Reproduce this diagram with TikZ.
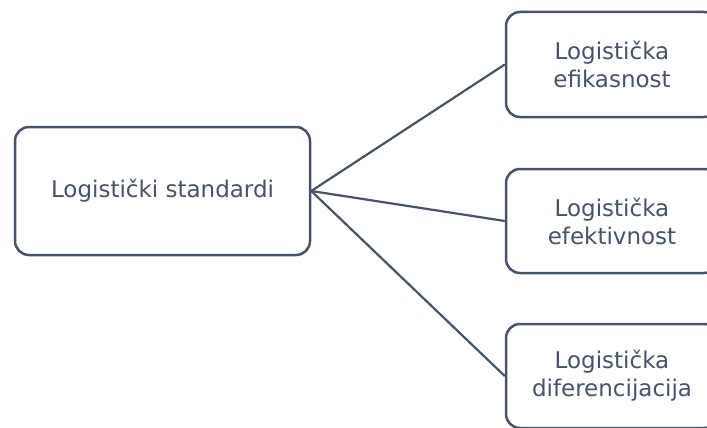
\documentclass[tikz,border=0pt]{standalone}
\usepackage{fontspec}
\setmainfont{DejaVu Sans}
\definecolor{slate}{HTML}{44546A}
\begin{document}
\begin{tikzpicture}[x=1pt,y=-1pt,
  box/.style={draw=slate,line width=2.5pt,rounded corners=14pt,fill=white,
    text=slate,align=center,font=\fontsize{23}{28}\selectfont,inner sep=0pt},
  link/.style={draw=slate,line width=2.2pt}]
\useasboundingbox (0,0) rectangle (707,428);
\clip (0,0) rectangle (707,428);
\node[box,minimum width=295pt,minimum height=128pt] (root) at (162.5,191) {Logistički standardi};
\node[box,minimum width=212pt,minimum height=105pt] (a) at (612,64.5) {Logistička\\efikasnost};
\node[box,minimum width=212pt,minimum height=104pt] (b) at (612,221) {Logistička\\efektivnost};
\node[box,minimum width=212pt,minimum height=104pt] (c) at (612,376) {Logistička\\diferencijacija};
\draw[link] (root.east) -- (a.west);
\draw[link] (root.east) -- (b.west);
\draw[link] (root.east) -- (c.west);
\end{tikzpicture}
\end{document}
